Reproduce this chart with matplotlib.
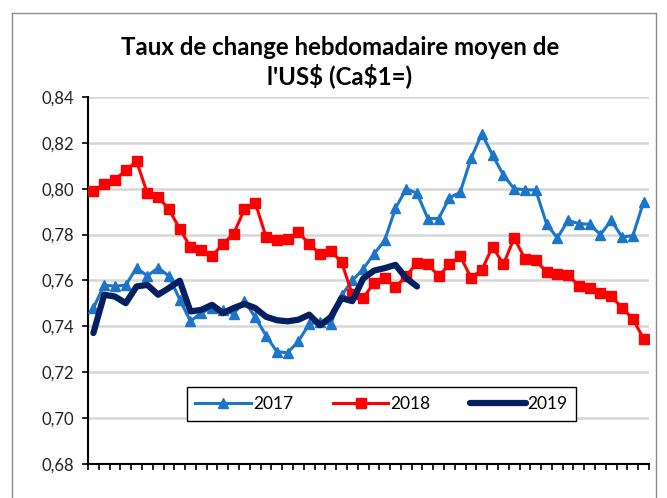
import matplotlib
matplotlib.use("Agg")
import matplotlib.pyplot as plt
from matplotlib.lines import Line2D
import numpy as np

weeks = list(range(1, 53))
weeks_2019 = list(range(1, 32))

rate_2017 = [0.748, 0.758, 0.7575, 0.758, 0.7655, 0.762, 0.7655, 0.762, 0.7517, 0.7422,
             0.746, 0.748, 0.747, 0.7455, 0.751, 0.744, 0.736, 0.729, 0.7285, 0.7335,
             0.741, 0.742, 0.741, 0.7535, 0.760, 0.765, 0.7715, 0.7775, 0.7915, 0.800,
             0.798, 0.787, 0.787, 0.796, 0.7985, 0.8132, 0.824, 0.8147, 0.806, 0.800,
             0.7996, 0.7994, 0.7848, 0.7785, 0.7862, 0.7848, 0.7845, 0.780, 0.7862, 0.779,
             0.7795, 0.7943]

rate_2018 = [0.799, 0.802, 0.804, 0.808, 0.812, 0.798, 0.7965, 0.791, 0.7826, 0.7745,
             0.7734, 0.7706, 0.776, 0.7804, 0.791, 0.794, 0.779, 0.7775, 0.778, 0.781,
             0.776, 0.7716, 0.773, 0.768, 0.754, 0.7523, 0.759, 0.761, 0.757, 0.762,
             0.7677, 0.767, 0.762, 0.767, 0.7706, 0.7613, 0.7645, 0.7748, 0.767, 0.7785,
             0.7695, 0.7688, 0.7637, 0.763, 0.7626, 0.7575, 0.7569, 0.7547, 0.7532, 0.7481,
             0.7433, 0.7346]

rate_2019 = [0.7371, 0.7538, 0.753, 0.7501, 0.7574, 0.7581, 0.7538, 0.7567, 0.7599, 0.7465,
             0.7472, 0.7494, 0.7458, 0.7480, 0.7498, 0.748, 0.7442, 0.7427, 0.7422, 0.7429,
             0.7451, 0.7405, 0.7440, 0.7523, 0.751, 0.7608, 0.7643, 0.7654, 0.7668, 0.761,
             0.7574]

series_labels = ["2017", "2018", "2019"]
y_ticks = [0.68, 0.70, 0.72, 0.74, 0.76, 0.78, 0.80, 0.82, 0.84]
title = "Taux de change hebdomadaire moyen de\nl'US\\$ (Ca\\$1=)"

plt.rcParams['font.family'] = ['Lato', 'DejaVu Sans']

fig = plt.figure(figsize=(6.67, 4.98), dpi=100)
ax = fig.add_axes([88/667, 34/498, 561/667, 367/498])

c17 = "#1B75C9"
c18 = "#FF0000"
c19 = "#052060"

x17 = np.arange(len(rate_2017))
x18 = np.arange(len(rate_2018))
x19 = np.arange(len(rate_2019))

ax.plot(x17, rate_2017, color=c17, lw=2.2, marker="^", ms=6.5, label=series_labels[0], zorder=3)
ax.plot(x18, rate_2018, color=c18, lw=2.2, marker="s", ms=6.5, label=series_labels[1], zorder=4)
ax.plot(x19, rate_2019, color=c19, lw=4.5, solid_joinstyle="round", solid_capstyle="round",
        label=series_labels[2], zorder=5)

ax.set_xlim(-0.5, len(weeks) - 0.5)
ax.set_ylim(0.68, 0.84)
ax.set_xticks(np.arange(-0.5, len(weeks), 1.0))
ax.set_xticklabels([])
ax.set_yticks(y_ticks)
ax.set_yticklabels([f"{v:.2f}".replace(".", ",") for v in y_ticks], fontsize=12, color="#222222")
ax.tick_params(axis="x", direction="out", length=4, width=1.2, color="black")
ax.tick_params(axis="y", direction="out", length=4, width=1.2, color="black", pad=6)
ax.grid(axis="y", color="#D6D6D6", lw=1.8, zorder=0)
ax.set_axisbelow(True)
for s in ["top", "right"]:
    ax.spines[s].set_visible(False)
for s in ["left", "bottom"]:
    ax.spines[s].set_color("black")
    ax.spines[s].set_linewidth(1.5)

fig.text(340/667, 1 - 62/498, title, ha="center", va="center", fontsize=17.3,
         fontweight="bold", linespacing=1.22)

leg = ax.legend(ncol=3, loc="center", bbox_to_anchor=((168+595)/2/667, 1 - 404/498),
                bbox_transform=fig.transFigure, fontsize=12.5, frameon=True, fancybox=False,
                handlelength=3.2, columnspacing=2.3, handletextpad=0.1,
                borderpad=0.5, borderaxespad=0)
leg.get_frame().set_edgecolor("black")
leg.get_frame().set_linewidth(1.0)
leg.get_frame().set_alpha(1)

# outer chart border
bc = "#8C8C8C"
fig.add_artist(Line2D([12/667, 12/667], [0, 1 - 13/498], color=bc, lw=1, transform=fig.transFigure))
fig.add_artist(Line2D([12/667, 656/667], [1 - 13/498, 1 - 13/498], color=bc, lw=1, transform=fig.transFigure))
fig.add_artist(Line2D([656/667, 656/667], [0, 1 - 13/498], color=bc, lw=1, transform=fig.transFigure))

fig.savefig("out.png", dpi=100)
